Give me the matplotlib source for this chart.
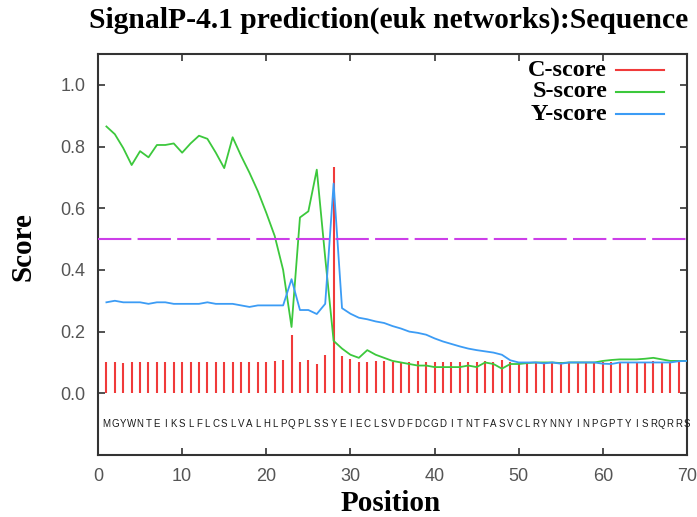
"""
SignalP-4.1 style score plot (C, S and Y scores along the sequence).
"""

import matplotlib
matplotlib.use("Agg")
import matplotlib.pyplot as plt

SEQUENCE = "MGYWNTEIKSLFLCSLVALHLPQPLSSYEIECLSVDFDCGDITNTFASVCLRYNNYINPGPTYISRQRRS"
POSITIONS = list(range(1, len(SEQUENCE) + 1))

C_SCORE = [
    0.102, 0.100, 0.099, 0.103, 0.103, 0.100, 0.100, 0.102, 0.102, 0.100,
    0.100, 0.103, 0.102, 0.100, 0.102, 0.100, 0.100, 0.102, 0.102, 0.100,
    0.104, 0.107, 0.190, 0.103, 0.107, 0.096, 0.124, 0.735, 0.120, 0.111,
    0.101, 0.101, 0.104, 0.104, 0.101, 0.102, 0.100, 0.104, 0.102, 0.101,
    0.102, 0.100, 0.102, 0.101, 0.103, 0.104, 0.101, 0.108, 0.102, 0.103,
    0.102, 0.101, 0.103, 0.102, 0.101, 0.103, 0.102, 0.101, 0.102, 0.101,
    0.103, 0.101, 0.102, 0.101, 0.102, 0.104, 0.101, 0.102, 0.101, 0.102,
]

S_SCORE = [
    0.865, 0.840, 0.795, 0.740, 0.785, 0.765, 0.805, 0.805, 0.810, 0.780,
    0.810, 0.835, 0.825, 0.780, 0.730, 0.830, 0.770, 0.715, 0.655, 0.585,
    0.510, 0.400, 0.215, 0.570, 0.590, 0.725, 0.440, 0.170, 0.145, 0.125,
    0.115, 0.140, 0.125, 0.115, 0.105, 0.100, 0.095, 0.090, 0.090, 0.085,
    0.085, 0.085, 0.085, 0.090, 0.085, 0.100, 0.095, 0.080, 0.095, 0.095,
    0.098, 0.100, 0.100, 0.100, 0.098, 0.100, 0.100, 0.100, 0.100, 0.105,
    0.108, 0.110, 0.110, 0.110, 0.112, 0.115, 0.110, 0.105, 0.105, 0.105,
]

Y_SCORE = [
    0.295, 0.300, 0.295, 0.295, 0.295, 0.290, 0.295, 0.295, 0.290, 0.290,
    0.290, 0.290, 0.295, 0.290, 0.290, 0.290, 0.285, 0.280, 0.285, 0.285,
    0.285, 0.285, 0.370, 0.270, 0.270, 0.257, 0.290, 0.680, 0.276, 0.258,
    0.245, 0.240, 0.233, 0.228, 0.218, 0.210, 0.200, 0.196, 0.190, 0.178,
    0.168, 0.160, 0.152, 0.145, 0.140, 0.136, 0.132, 0.125, 0.107, 0.100,
    0.100, 0.100, 0.097, 0.100, 0.096, 0.100, 0.100, 0.100, 0.100, 0.096,
    0.095, 0.100, 0.100, 0.100, 0.100, 0.100, 0.100, 0.100, 0.104, 0.105,
]

CUTOFF = 0.5

RED = "#f03a3a"
GREEN = "#3cc83c"
BLUE = "#3c9cf5"
MAGENTA = "#cc3ee8"
FRAME = "#333333"
TICK_TEXT = "#555555"

fig = plt.figure(figsize=(6.97, 5.17), dpi=100)
ax = fig.add_axes([0.1406, 0.1199, 0.8451, 0.7757])

# C-score as impulses
ax.vlines(POSITIONS, 0, C_SCORE, color=RED, linewidth=1.5, zorder=2)
ax.plot(POSITIONS, S_SCORE, color=GREEN, linewidth=1.3, zorder=3)
ax.plot(POSITIONS, Y_SCORE, color=BLUE, linewidth=1.3, zorder=4)
ax.axhline(CUTOFF, color=MAGENTA, linewidth=1.5, dashes=(16, 3), zorder=5)

# sequence under the impulses
for pos, aa in zip(POSITIONS, SEQUENCE):
    ax.text(pos, -0.1, aa, ha="center", va="center", fontsize=7,
            family="Liberation Sans", color="#1a1a1a")

ax.set_xlim(0, 70)
ax.set_ylim(-0.2, 1.1)
ax.set_xticks(range(0, 71, 10))
ax.set_yticks([0.0, 0.2, 0.4, 0.6, 0.8, 1.0])
ax.set_yticklabels(["0.0", "0.2", "0.4", "0.6", "0.8", "1.0"])
ax.tick_params(direction="in", length=5, width=1.2, color=FRAME,
               top=True, right=True, labelsize=13, labelcolor=TICK_TEXT)
ax.tick_params(axis="x", pad=9)
ax.tick_params(axis="y", pad=9)
for label in ax.get_xticklabels() + ax.get_yticklabels():
    label.set_family("Liberation Sans")
for spine in ax.spines.values():
    spine.set_color(FRAME)
    spine.set_linewidth(1.5)

ax.set_xlabel("Position", family="Liberation Serif", fontweight="bold",
              fontsize=21)
ax.xaxis.set_label_coords(0.497, -0.088)
ax.set_ylabel("Score", family="Liberation Serif", fontweight="bold",
              fontsize=21)
ax.yaxis.set_label_coords(-0.105, 0.52)
fig.text(0.558, 0.96, "SignalP-4.1 prediction(euk networks):Sequence",
         ha="center", va="center", family="Liberation Serif",
         fontweight="bold", fontsize=21.3)

# legend drawn gnuplot-style: right-aligned labels with short line samples
legend_rows = [("C-score", RED, 1.047), ("S-score", GREEN, 0.978),
               ("Y-score", BLUE, 0.905)]
for name, color, ypos in legend_rows:
    ax.text(60.5, ypos, name, ha="right", va="center",
            family="Liberation Serif", fontweight="bold", fontsize=17.5)
    ax.plot([61.5, 67.3], [ypos, ypos], color=color, linewidth=1.5)

fig.savefig("out.png", dpi=100)
